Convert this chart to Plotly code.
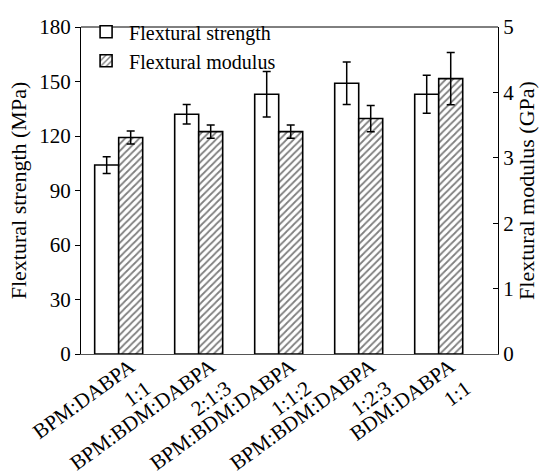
import plotly.graph_objects as go

# Formulations (two-line category labels)
categories = [
    "BPM:DABPA<br>1:1",
    "BPM:BDM:DABPA<br>2:1:3",
    "BPM:BDM:DABPA<br>1:1:2",
    "BPM:BDM:DABPA<br>1:2:3",
    "BDM:DABPA<br>1:1",
]
positions = [0, 1, 2, 3, 4]

# Flexural strength (MPa) with standard deviation
strength = [104, 132, 143, 149, 143]
strength_err = [4.6, 5.4, 12.5, 11.7, 10.5]

# Flexural modulus (GPa) with standard deviation
modulus = [3.31, 3.40, 3.40, 3.60, 4.21]
modulus_err = [0.10, 0.10, 0.10, 0.20, 0.40]

FONT = "Liberation Serif, Times New Roman, serif"
BAR_W = 0.3

fig = go.Figure()

fig.add_trace(go.Bar(
    x=positions, y=strength, name="Flextural strength",
    width=BAR_W, offset=-BAR_W, opacity=1,
    marker=dict(color="white", line=dict(color="black", width=1.6)),
    error_y=dict(type="data", array=strength_err, color="black",
                 thickness=1.5, width=4),
    yaxis="y",
))

fig.add_trace(go.Bar(
    x=positions, y=modulus, name="Flextural modulus",
    width=BAR_W, offset=0, opacity=1,
    marker=dict(color="white", line=dict(color="black", width=1.6),
                pattern=dict(shape="/", fgcolor="black", bgcolor="white",
                             size=5, solidity=0.35)),
    error_y=dict(type="data", array=modulus_err, color="black",
                 thickness=1.5, width=4),
    yaxis="y2",
))

# Slanted two-line category labels, right-aligned under each group
for pos, label in zip(positions, categories):
    fig.add_annotation(
        x=pos, y=0, xref="x", yref="paper",
        text=label, textangle=-36, align="right",
        xanchor="right", yanchor="top", xshift=40, yshift=3,
        showarrow=False, font=dict(family=FONT, size=21, color="black"),
    )

fig.update_layout(
    width=543, height=476,
    margin=dict(l=81, r=45, t=20, b=122),
    paper_bgcolor="white", plot_bgcolor="white",
    barmode="group",
    font=dict(family=FONT, size=21, color="black"),
    showlegend=True,
    legend=dict(x=0.005, y=1.045, xanchor="left", yanchor="top",
                bgcolor="rgba(0,0,0,0)", font=dict(size=20),
                tracegroupgap=0, itemwidth=36),
    xaxis=dict(
        range=[-0.471, 4.741],
        tickvals=positions, showticklabels=False,
        ticks="", automargin=False,
        showline=True, linecolor="#555555", linewidth=1,
        showgrid=False, zeroline=False,
    ),
    yaxis=dict(
        range=[0, 180], dtick=30, automargin=False,
        ticks="outside", ticklen=5, tickwidth=1, tickcolor="black",
        showline=True, linecolor="black", linewidth=1,
        showgrid=False, zeroline=False,
        title=dict(text="Flextural strength (MPa)", font=dict(size=22),
                   standoff=6),
        tickfont=dict(size=21),
    ),
    yaxis2=dict(
        range=[0, 5], dtick=1, overlaying="y", side="right", automargin=False,
        ticks="inside", ticklen=5, tickwidth=1, tickcolor="black",
        showline=True, linecolor="black", linewidth=1,
        showgrid=False, zeroline=False,
        title=dict(text="Flextural modulus (GPa)", font=dict(size=22),
                   standoff=4),
        tickfont=dict(size=21),
    ),
    shapes=[dict(type="line", xref="paper", yref="paper",
                 x0=0, x1=1, y0=1, y1=1,
                 line=dict(color="black", width=1))],
)

fig.write_html("out.html")
